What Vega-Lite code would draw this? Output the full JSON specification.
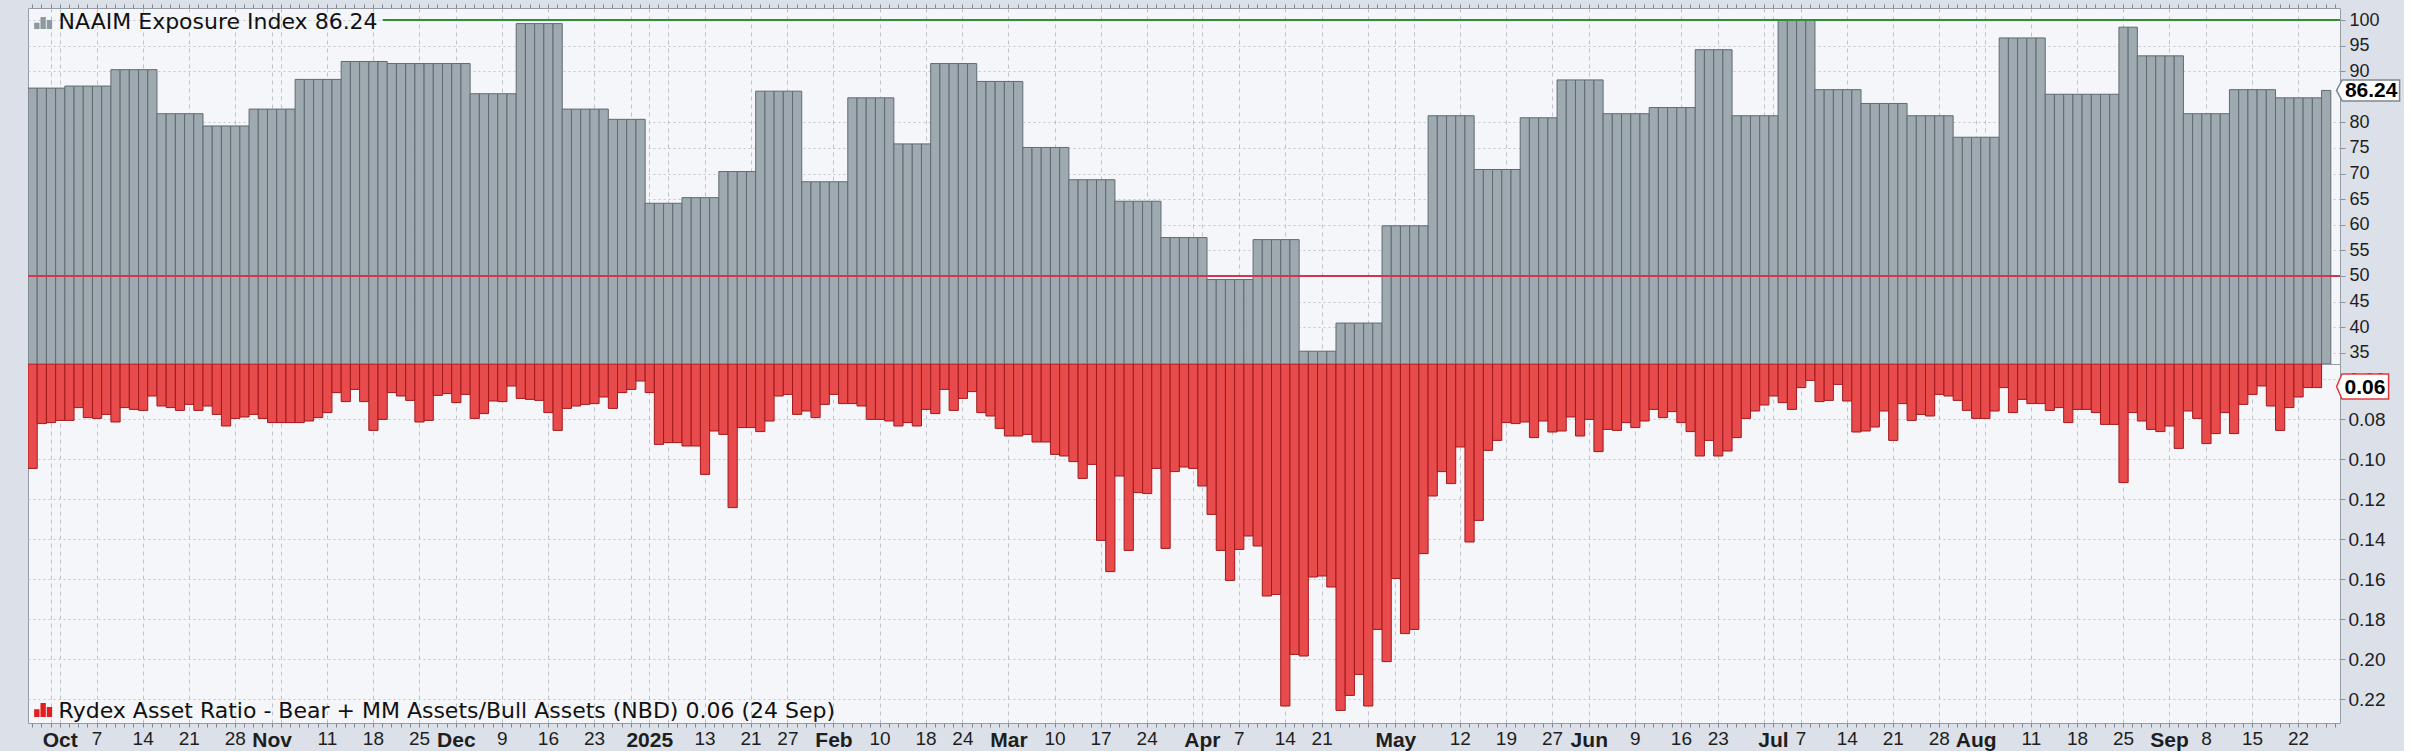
{
  "$schema": "https://vega.github.io/schema/vega-lite/v6.json",
  "background": "#dce1e9",
  "padding": {"left": 26, "top": 3, "right": 0, "bottom": 0},
  "spacing": 0,
  "bounds": "flush",
  "config": {
    "view": {"stroke": "#959ca5", "strokeWidth": 1, "fill": "#f5f6fa"},
    "axis": {"labelFont": "Liberation Sans", "labelColor": "#1e1e1e", "domain": false, "title": null, "labelOverlap": false}
  },
  "datasets": {
    "main": [
      {"d":"2024-09-26","n":86.7,"r":0.1047},{"d":"2024-09-27","n":86.7,"r":0.0823},{"d":"2024-09-30","n":86.7,"r":0.0818},{"d":"2024-10-01","n":86.7,"r":0.0807},
      {"d":"2024-10-02","n":87.1,"r":0.0807},{"d":"2024-10-03","n":87.1,"r":0.0743},{"d":"2024-10-04","n":87.1,"r":0.0793},{"d":"2024-10-07","n":87.1,"r":0.0797},{"d":"2024-10-08","n":87.1,"r":0.0777},
      {"d":"2024-10-09","n":90.3,"r":0.0815},{"d":"2024-10-10","n":90.3,"r":0.0743},{"d":"2024-10-11","n":90.3,"r":0.0752},{"d":"2024-10-14","n":90.3,"r":0.0757},{"d":"2024-10-15","n":90.3,"r":0.0685},
      {"d":"2024-10-16","n":81.7,"r":0.0735},{"d":"2024-10-17","n":81.7,"r":0.0743},{"d":"2024-10-18","n":81.7,"r":0.0757},{"d":"2024-10-21","n":81.7,"r":0.0727},{"d":"2024-10-22","n":81.7,"r":0.0757},
      {"d":"2024-10-23","n":79.3,"r":0.0735},{"d":"2024-10-24","n":79.3,"r":0.0777},{"d":"2024-10-25","n":79.3,"r":0.0835},{"d":"2024-10-28","n":79.3,"r":0.0797},{"d":"2024-10-29","n":79.3,"r":0.079},
      {"d":"2024-10-30","n":82.6,"r":0.0777},{"d":"2024-10-31","n":82.6,"r":0.0797},{"d":"2024-11-01","n":82.6,"r":0.0818},{"d":"2024-11-04","n":82.6,"r":0.0818},{"d":"2024-11-05","n":82.6,"r":0.0818},
      {"d":"2024-11-06","n":88.4,"r":0.0818},{"d":"2024-11-07","n":88.4,"r":0.081},{"d":"2024-11-08","n":88.4,"r":0.0793},{"d":"2024-11-11","n":88.4,"r":0.0768},{"d":"2024-11-12","n":88.4,"r":0.0668},
      {"d":"2024-11-13","n":91.9,"r":0.0713},{"d":"2024-11-14","n":91.9,"r":0.0652},{"d":"2024-11-15","n":91.9,"r":0.0713},{"d":"2024-11-18","n":91.9,"r":0.0857},{"d":"2024-11-19","n":91.9,"r":0.0802},
      {"d":"2024-11-20","n":91.5,"r":0.0668},{"d":"2024-11-21","n":91.5,"r":0.0685},{"d":"2024-11-22","n":91.5,"r":0.0707},{"d":"2024-11-25","n":91.5,"r":0.0815},{"d":"2024-11-26","n":91.5,"r":0.0807},
      {"d":"2024-11-27","n":91.5,"r":0.0682},{"d":"2024-11-29","n":91.5,"r":0.0673},{"d":"2024-12-02","n":91.5,"r":0.0718},{"d":"2024-12-03","n":91.5,"r":0.0677},
      {"d":"2024-12-04","n":85.6,"r":0.0797},{"d":"2024-12-05","n":85.6,"r":0.0773},{"d":"2024-12-06","n":85.6,"r":0.071},{"d":"2024-12-09","n":85.6,"r":0.0713},{"d":"2024-12-10","n":85.6,"r":0.0635},
      {"d":"2024-12-11","n":99.3,"r":0.0697},{"d":"2024-12-12","n":99.3,"r":0.0702},{"d":"2024-12-13","n":99.3,"r":0.0707},{"d":"2024-12-16","n":99.3,"r":0.0768},{"d":"2024-12-17","n":99.3,"r":0.0857},
      {"d":"2024-12-18","n":82.6,"r":0.0747},{"d":"2024-12-19","n":82.6,"r":0.0735},{"d":"2024-12-20","n":82.6,"r":0.0727},{"d":"2024-12-23","n":82.6,"r":0.0723},{"d":"2024-12-24","n":82.6,"r":0.069},
      {"d":"2024-12-26","n":80.6,"r":0.0747},{"d":"2024-12-27","n":80.6,"r":0.0668},{"d":"2024-12-30","n":80.6,"r":0.0652},{"d":"2024-12-31","n":80.6,"r":0.061},
      {"d":"2025-01-02","n":64.2,"r":0.0668},{"d":"2025-01-03","n":64.2,"r":0.0927},{"d":"2025-01-06","n":64.2,"r":0.0918},{"d":"2025-01-07","n":64.2,"r":0.0918},
      {"d":"2025-01-08","n":65.3,"r":0.0935},{"d":"2025-01-10","n":65.3,"r":0.0935},{"d":"2025-01-13","n":65.3,"r":0.1077},{"d":"2025-01-14","n":65.3,"r":0.086},
      {"d":"2025-01-15","n":70.4,"r":0.0877},{"d":"2025-01-16","n":70.4,"r":0.1243},{"d":"2025-01-17","n":70.4,"r":0.0843},{"d":"2025-01-21","n":70.4,"r":0.0843},
      {"d":"2025-01-22","n":86.1,"r":0.0863},{"d":"2025-01-23","n":86.1,"r":0.081},{"d":"2025-01-24","n":86.1,"r":0.0685},{"d":"2025-01-27","n":86.1,"r":0.0677},{"d":"2025-01-28","n":86.1,"r":0.0777},
      {"d":"2025-01-29","n":68.4,"r":0.076},{"d":"2025-01-30","n":68.4,"r":0.0793},{"d":"2025-01-31","n":68.4,"r":0.0727},{"d":"2025-02-03","n":68.4,"r":0.0677},{"d":"2025-02-04","n":68.4,"r":0.0723},
      {"d":"2025-02-05","n":84.8,"r":0.0723},{"d":"2025-02-06","n":84.8,"r":0.0735},{"d":"2025-02-07","n":84.8,"r":0.0802},{"d":"2025-02-10","n":84.8,"r":0.0802},{"d":"2025-02-11","n":84.8,"r":0.081},
      {"d":"2025-02-12","n":75.8,"r":0.0835},{"d":"2025-02-13","n":75.8,"r":0.0818},{"d":"2025-02-14","n":75.8,"r":0.0835},{"d":"2025-02-18","n":75.8,"r":0.0752},
      {"d":"2025-02-19","n":91.5,"r":0.0773},{"d":"2025-02-20","n":91.5,"r":0.0652},{"d":"2025-02-21","n":91.5,"r":0.0757},{"d":"2025-02-24","n":91.5,"r":0.0697},{"d":"2025-02-25","n":91.5,"r":0.0663},
      {"d":"2025-02-26","n":88.0,"r":0.0768},{"d":"2025-02-27","n":88.0,"r":0.0785},{"d":"2025-02-28","n":88.0,"r":0.0847},{"d":"2025-03-03","n":88.0,"r":0.0885},{"d":"2025-03-04","n":88.0,"r":0.0885},
      {"d":"2025-03-05","n":75.1,"r":0.0877},{"d":"2025-03-06","n":75.1,"r":0.0915},{"d":"2025-03-07","n":75.1,"r":0.0915},{"d":"2025-03-10","n":75.1,"r":0.0977},{"d":"2025-03-11","n":75.1,"r":0.0985},
      {"d":"2025-03-12","n":68.8,"r":0.1013},{"d":"2025-03-13","n":68.8,"r":0.1097},{"d":"2025-03-14","n":68.8,"r":0.1027},{"d":"2025-03-17","n":68.8,"r":0.1407},{"d":"2025-03-18","n":68.8,"r":0.1563},
      {"d":"2025-03-19","n":64.6,"r":0.1085},{"d":"2025-03-20","n":64.6,"r":0.1457},{"d":"2025-03-21","n":64.6,"r":0.1168},{"d":"2025-03-24","n":64.6,"r":0.1173},{"d":"2025-03-25","n":64.6,"r":0.1047},
      {"d":"2025-03-26","n":57.5,"r":0.1447},{"d":"2025-03-27","n":57.5,"r":0.1063},{"d":"2025-03-28","n":57.5,"r":0.104},{"d":"2025-03-31","n":57.5,"r":0.1047},{"d":"2025-04-01","n":57.5,"r":0.1135},
      {"d":"2025-04-02","n":49.3,"r":0.1277},{"d":"2025-04-03","n":49.3,"r":0.1457},{"d":"2025-04-04","n":49.3,"r":0.1607},{"d":"2025-04-07","n":49.3,"r":0.1452},{"d":"2025-04-08","n":49.3,"r":0.1385},
      {"d":"2025-04-09","n":57.1,"r":0.1435},{"d":"2025-04-10","n":57.1,"r":0.1685},{"d":"2025-04-11","n":57.1,"r":0.1677},{"d":"2025-04-14","n":57.1,"r":0.2235},{"d":"2025-04-15","n":57.1,"r":0.1977},
      {"d":"2025-04-16","n":35.3,"r":0.1985},{"d":"2025-04-17","n":35.3,"r":0.159},{"d":"2025-04-21","n":35.3,"r":0.1585},{"d":"2025-04-22","n":35.3,"r":0.164},
      {"d":"2025-04-23","n":40.8,"r":0.2257},{"d":"2025-04-24","n":40.8,"r":0.2182},{"d":"2025-04-25","n":40.8,"r":0.2077},{"d":"2025-04-28","n":40.8,"r":0.2235},{"d":"2025-04-29","n":40.8,"r":0.1852},
      {"d":"2025-04-30","n":59.8,"r":0.2013},{"d":"2025-05-01","n":59.8,"r":0.1597},{"d":"2025-05-02","n":59.8,"r":0.1873},{"d":"2025-05-05","n":59.8,"r":0.1852},{"d":"2025-05-06","n":59.8,"r":0.1473},
      {"d":"2025-05-07","n":81.3,"r":0.1185},{"d":"2025-05-08","n":81.3,"r":0.1063},{"d":"2025-05-09","n":81.3,"r":0.1123},{"d":"2025-05-12","n":81.3,"r":0.094},{"d":"2025-05-13","n":81.3,"r":0.1415},
      {"d":"2025-05-14","n":70.8,"r":0.1307},{"d":"2025-05-15","n":70.8,"r":0.0957},{"d":"2025-05-16","n":70.8,"r":0.0907},{"d":"2025-05-19","n":70.8,"r":0.0818},{"d":"2025-05-20","n":70.8,"r":0.0823},
      {"d":"2025-05-21","n":80.9,"r":0.0815},{"d":"2025-05-22","n":80.9,"r":0.0893},{"d":"2025-05-23","n":80.9,"r":0.081},{"d":"2025-05-27","n":80.9,"r":0.0865},
      {"d":"2025-05-28","n":88.3,"r":0.086},{"d":"2025-05-29","n":88.3,"r":0.079},{"d":"2025-05-30","n":88.3,"r":0.0885},{"d":"2025-06-02","n":88.3,"r":0.0802},{"d":"2025-06-03","n":88.3,"r":0.0963},
      {"d":"2025-06-04","n":81.7,"r":0.0852},{"d":"2025-06-05","n":81.7,"r":0.0857},{"d":"2025-06-06","n":81.7,"r":0.0818},{"d":"2025-06-09","n":81.7,"r":0.0843},{"d":"2025-06-10","n":81.7,"r":0.081},
      {"d":"2025-06-11","n":82.9,"r":0.0752},{"d":"2025-06-12","n":82.9,"r":0.0793},{"d":"2025-06-13","n":82.9,"r":0.0763},{"d":"2025-06-16","n":82.9,"r":0.0818},{"d":"2025-06-17","n":82.9,"r":0.0863},
      {"d":"2025-06-18","n":94.2,"r":0.0985},{"d":"2025-06-20","n":94.2,"r":0.0907},{"d":"2025-06-23","n":94.2,"r":0.0985},{"d":"2025-06-24","n":94.2,"r":0.096},
      {"d":"2025-06-25","n":81.3,"r":0.0893},{"d":"2025-06-26","n":81.3,"r":0.0797},{"d":"2025-06-27","n":81.3,"r":0.076},{"d":"2025-06-30","n":81.3,"r":0.073},{"d":"2025-07-01","n":81.3,"r":0.0685},
      {"d":"2025-07-02","n":100.0,"r":0.0718},{"d":"2025-07-03","n":100.0,"r":0.0752},{"d":"2025-07-07","n":100.0,"r":0.0643},{"d":"2025-07-08","n":100.0,"r":0.0607},
      {"d":"2025-07-09","n":86.4,"r":0.0713},{"d":"2025-07-10","n":86.4,"r":0.0707},{"d":"2025-07-11","n":86.4,"r":0.0627},{"d":"2025-07-14","n":86.4,"r":0.071},{"d":"2025-07-15","n":86.4,"r":0.0865},
      {"d":"2025-07-16","n":83.7,"r":0.086},{"d":"2025-07-17","n":83.7,"r":0.084},{"d":"2025-07-18","n":83.7,"r":0.076},{"d":"2025-07-21","n":83.7,"r":0.0907},{"d":"2025-07-22","n":83.7,"r":0.0723},
      {"d":"2025-07-23","n":81.3,"r":0.0807},{"d":"2025-07-24","n":81.3,"r":0.0777},{"d":"2025-07-25","n":81.3,"r":0.0785},{"d":"2025-07-28","n":81.3,"r":0.0677},{"d":"2025-07-29","n":81.3,"r":0.0685},
      {"d":"2025-07-30","n":77.1,"r":0.0707},{"d":"2025-07-31","n":77.1,"r":0.0757},{"d":"2025-08-01","n":77.1,"r":0.0797},{"d":"2025-08-04","n":77.1,"r":0.0797},{"d":"2025-08-05","n":77.1,"r":0.076},
      {"d":"2025-08-06","n":96.5,"r":0.0643},{"d":"2025-08-07","n":96.5,"r":0.0768},{"d":"2025-08-08","n":96.5,"r":0.0702},{"d":"2025-08-11","n":96.5,"r":0.0723},{"d":"2025-08-12","n":96.5,"r":0.0723},
      {"d":"2025-08-13","n":85.5,"r":0.0757},{"d":"2025-08-14","n":85.5,"r":0.0743},{"d":"2025-08-15","n":85.5,"r":0.0818},{"d":"2025-08-18","n":85.5,"r":0.0752},{"d":"2025-08-19","n":85.5,"r":0.0752},
      {"d":"2025-08-20","n":85.5,"r":0.0768},{"d":"2025-08-21","n":85.5,"r":0.0827},{"d":"2025-08-22","n":85.5,"r":0.0827},
      {"d":"2025-08-25","n":98.6,"r":0.1118},{"d":"2025-08-26","n":98.6,"r":0.0768},
      {"d":"2025-08-27","n":93.0,"r":0.081},{"d":"2025-08-28","n":93.0,"r":0.0852},{"d":"2025-08-29","n":93.0,"r":0.0863},{"d":"2025-09-02","n":93.0,"r":0.0835},{"d":"2025-09-03","n":93.0,"r":0.0947},
      {"d":"2025-09-04","n":81.7,"r":0.076},{"d":"2025-09-05","n":81.7,"r":0.0797},{"d":"2025-09-08","n":81.7,"r":0.0923},{"d":"2025-09-09","n":81.7,"r":0.0873},{"d":"2025-09-10","n":81.7,"r":0.0768},
      {"d":"2025-09-11","n":86.4,"r":0.0873},{"d":"2025-09-12","n":86.4,"r":0.0727},{"d":"2025-09-15","n":86.4,"r":0.0677},{"d":"2025-09-16","n":86.4,"r":0.0635},{"d":"2025-09-17","n":86.4,"r":0.0735},
      {"d":"2025-09-18","n":84.8,"r":0.0857},{"d":"2025-09-19","n":84.8,"r":0.0743},{"d":"2025-09-22","n":84.8,"r":0.069},{"d":"2025-09-23","n":84.8,"r":0.0643},{"d":"2025-09-24","n":84.8,"r":0.0643},
      {"d":"2025-09-25","n":86.24,"r":null},
      {"d":"2025-09-26","n":null,"r":null}
    ]
  },
  "vconcat": [
    {
      "width": 2312,
      "height": 356,
      "layer": [
        {
          "data": {"name": "main"},
          "mark": {"type": "tick", "opacity": 0},
          "encoding": {
            "x": {
              "field": "d", "type": "ordinal",
              "scale": {"paddingInner": 0, "paddingOuter": 0},
              "axis": {
                "orient": "top", "labels": false, "ticks": true, "tickSize": 4, "tickColor": "#7f8790",
                "grid": true, "gridColor": "#bcc2ca", "gridDash": [4, 4],
                "gridOpacity": {"condition": {"test": "utcday(toDate(datum.value)) == 1 || indexof(['2024-10-01','2024-11-01','2025-01-02','2025-01-21','2025-02-18','2025-04-01','2025-05-01','2025-05-27','2025-07-01','2025-08-01','2025-09-02'], datum.value) >= 0", "value": 1}, "value": 0}
              }
            }
          }
        },
        {
          "data": {"name": "main"},
          "mark": {"type": "bar", "fill": "#9ea9b0", "stroke": "#5f6a72", "strokeWidth": 1, "clip": true},
          "encoding": {
            "x": {"field": "d", "type": "ordinal"},
            "y": {
              "field": "n", "type": "quantitative",
              "scale": {"domain": [32.8, 102.35], "nice": false, "zero": false},
              "axis": {
                "orient": "right", "values": [35, 40, 45, 50, 55, 60, 65, 70, 75, 80, 90, 95, 100], "tickCount": 30,
                "labelFontSize": 18, "tickSize": 5, "tickColor": "#8a9199", "labelPadding": 4, "labelOverlap": false,
                "grid": true, "gridColor": "#c3c8cf", "gridDash": [2, 3]
              }
            },
            "y2": {"datum": 32.8}
          }
        },
        {
          "data": {"values": [{}]},
          "mark": {"type": "rule", "color": "#d2364e", "strokeWidth": 2},
          "encoding": {"y": {"datum": 50}}
        },
        {
          "data": {"values": [{}]},
          "mark": {"type": "rule", "color": "#2f8f36", "strokeWidth": 2},
          "encoding": {"y": {"datum": 100}, "x": {"datum": "2024-11-19"}, "x2": {"value": "width"}}
        },
        {
          "data": {"values": [{}]},
          "mark": {"type": "point", "shape": "M0.17,1V0.3H0.77V1Z M0.87,1V-0.33H1.47V1Z M1.57,1V0H2.17V1Z", "filled": true, "color": "#8e9aa1", "size": 324, "opacity": 1},
          "encoding": {"x": {"datum": "2024-09-26"}, "y": {"datum": 100}}
        },
        {
          "data": {"values": [{}]},
          "mark": {"type": "text", "align": "left", "baseline": "middle", "dx": 26, "dy": 1.5, "font": "DejaVu Sans", "fontSize": 22, "color": "#111111"},
          "encoding": {"x": {"datum": "2024-09-26"}, "y": {"datum": 100}, "text": {"value": "NAAIM Exposure Index 86.24"}}
        },
        {
          "data": {"name": "main"},
          "transform": [{"filter": "datum.d == '2025-09-25'"}],
          "mark": {"type": "point", "shape": "M1.04,0L1.6,-1.05L7.34,-1.05L7.34,1.05L1.6,1.05Z", "filled": true, "fill": "#ffffff", "stroke": "#7d868f", "strokeWidth": 1.5, "size": 400, "opacity": 1},
          "encoding": {"x": {"field": "d", "type": "ordinal"}, "y": {"field": "n", "type": "quantitative"}}
        },
        {
          "data": {"name": "main"},
          "transform": [{"filter": "datum.d == '2025-09-25'"}],
          "mark": {"type": "text", "align": "center", "baseline": "middle", "dx": 45, "dy": 1, "font": "Liberation Sans", "fontSize": 21, "fontWeight": "bold", "color": "#000000"},
          "encoding": {"x": {"field": "d", "type": "ordinal"}, "y": {"field": "n", "type": "quantitative"}, "text": {"field": "n", "type": "quantitative", "format": ".2f"}}
        }
      ]
    },
    {
      "width": 2312,
      "height": 359,
      "layer": [
        {
          "data": {"name": "main"},
          "mark": {"type": "tick", "opacity": 0},
          "encoding": {
            "x": {
              "field": "d", "type": "ordinal",
              "scale": {"paddingInner": 0, "paddingOuter": 0},
              "axis": {
                "orient": "bottom", "ticks": true, "tickSize": 4, "tickColor": "#7f8790", "labelPadding": 2,
                "labelAngle": 0, "labelOverlap": false, "labelBound": false, "labelFlush": false,
                "labelExpr": "({'2024-10-01':'Oct','2024-10-07':'7','2024-10-14':'14','2024-10-21':'21','2024-10-28':'28','2024-11-01':'Nov','2024-11-11':'11','2024-11-18':'18','2024-11-25':'25','2024-12-02':'Dec','2024-12-09':'9','2024-12-16':'16','2024-12-23':'23','2025-01-02':'2025','2025-01-13':'13','2025-01-21':'21','2025-01-27':'27','2025-02-03':'Feb','2025-02-10':'10','2025-02-18':'18','2025-02-24':'24','2025-03-03':'Mar','2025-03-10':'10','2025-03-17':'17','2025-03-24':'24','2025-04-01':'Apr','2025-04-07':'7','2025-04-14':'14','2025-04-21':'21','2025-05-01':'May','2025-05-12':'12','2025-05-19':'19','2025-05-27':'27','2025-06-02':'Jun','2025-06-09':'9','2025-06-16':'16','2025-06-23':'23','2025-07-01':'Jul','2025-07-07':'7','2025-07-14':'14','2025-07-21':'21','2025-07-28':'28','2025-08-01':'Aug','2025-08-11':'11','2025-08-18':'18','2025-08-25':'25','2025-09-02':'Sep','2025-09-08':'8','2025-09-15':'15','2025-09-22':'22'})[datum.value] || ''",
                "labelFontWeight": {"condition": {"test": "indexof(['2024-10-01','2024-11-01','2024-12-02','2025-01-02','2025-02-03','2025-03-03','2025-04-01','2025-05-01','2025-06-02','2025-07-01','2025-08-01','2025-09-02'], datum.value) >= 0", "value": "bold"}, "value": "normal"},
                "labelFontSize": {"condition": {"test": "indexof(['2024-10-01','2024-11-01','2024-12-02','2025-01-02','2025-02-03','2025-03-03','2025-04-01','2025-05-01','2025-06-02','2025-07-01','2025-08-01','2025-09-02'], datum.value) >= 0", "value": 21}, "value": 19},
                "grid": true, "gridColor": "#bcc2ca", "gridDash": [4, 4],
                "gridOpacity": {"condition": {"test": "utcday(toDate(datum.value)) == 1 || indexof(['2024-10-01','2024-11-01','2025-01-02','2025-01-21','2025-02-18','2025-04-01','2025-05-01','2025-05-27','2025-07-01','2025-08-01','2025-09-02'], datum.value) >= 0", "value": 1}, "value": 0}
              }
            }
          }
        },
        {
          "data": {"name": "main"},
          "mark": {"type": "bar", "fill": "#e84b4b", "stroke": "#a3181c", "strokeWidth": 1, "clip": true},
          "encoding": {
            "x": {"field": "d", "type": "ordinal"},
            "y": {
              "field": "r", "type": "quantitative",
              "scale": {"domain": [0.0525, 0.232], "nice": false, "zero": false, "reverse": true},
              "axis": {
                "orient": "right", "values": [0.06, 0.08, 0.1, 0.12, 0.14, 0.16, 0.18, 0.2, 0.22], "format": ".2f", "tickCount": 30,
                "labelFontSize": 19, "tickSize": 5, "tickColor": "#8a9199", "labelPadding": 3, "labelOverlap": false,
                "grid": true, "gridColor": "#c3c8cf", "gridDash": [2, 3]
              }
            },
            "y2": {"datum": 0.0525}
          }
        },
        {
          "data": {"values": [{}]},
          "mark": {"type": "point", "shape": "M0.17,0.67V-0.2H0.77V0.67Z M0.87,0.67V-0.89H1.47V0.67Z M1.57,0.67V-0.45H2.17V0.67Z", "filled": true, "color": "#e02020", "size": 324, "opacity": 1},
          "encoding": {"x": {"datum": "2024-09-26"}, "y": {"datum": 0.226}}
        },
        {
          "data": {"values": [{}]},
          "mark": {"type": "text", "align": "left", "baseline": "middle", "dx": 26, "dy": 0, "font": "DejaVu Sans", "fontSize": 22, "color": "#111111"},
          "encoding": {"x": {"datum": "2024-09-26"}, "y": {"datum": 0.226}, "text": {"value": "Rydex Asset Ratio - Bear + MM Assets/Bull Assets (NBD) 0.06 (24 Sep)"}}
        },
        {
          "data": {"name": "main"},
          "transform": [{"filter": "datum.d == '2025-09-24'"}],
          "mark": {"type": "point", "shape": "M1.96,-0.11L2.5,-1.36L7.16,-1.36L7.16,1.14L2.5,1.14Z", "filled": true, "fill": "#ffffff", "stroke": "#e3383c", "strokeWidth": 1.5, "size": 400, "opacity": 1},
          "encoding": {"x": {"field": "d", "type": "ordinal"}, "y": {"field": "r", "type": "quantitative"}}
        },
        {
          "data": {"name": "main"},
          "transform": [{"filter": "datum.d == '2025-09-24'"}],
          "mark": {"type": "text", "align": "center", "baseline": "middle", "dx": 48, "dy": 0, "font": "Liberation Sans", "fontSize": 21, "fontWeight": "bold", "color": "#000000"},
          "encoding": {"x": {"field": "d", "type": "ordinal"}, "y": {"field": "r", "type": "quantitative"}, "text": {"field": "r", "type": "quantitative", "format": ".2f"}}
        }
      ]
    }
  ]
}
